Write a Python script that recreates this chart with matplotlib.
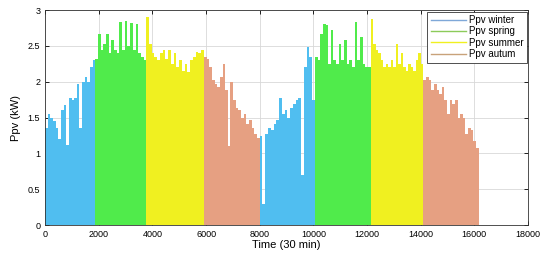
import numpy as np
import matplotlib.pyplot as plt
from matplotlib.lines import Line2D

plt.rcParams['font.family'] = ['Liberation Sans', 'DejaVu Sans']

# Peak PV power, roughly one value per 100 time steps (30 min each)
winter1 = [1.35, 1.55, 1.5, 1.45, 1.35, 1.2, 1.6, 1.68, 1.12, 1.78,
           1.74, 1.78, 1.97, 1.36, 2.0, 2.06, 2.0, 2.2, 2.3]
spring1 = [2.32, 2.67, 2.44, 2.53, 2.67, 2.4, 2.58, 2.44, 2.4, 2.84,
           2.45, 2.85, 2.5, 2.82, 2.45, 2.8, 2.4, 2.35, 2.3]
summer1 = [2.9, 2.53, 2.4, 2.35, 2.3, 2.4, 2.44, 2.32, 2.44, 2.25,
           2.4, 2.2, 2.3, 2.15, 2.25, 2.13, 2.3, 2.35, 2.42, 2.4, 2.44]
autumn1 = [2.35, 2.32, 2.2, 2.02, 1.97, 1.92, 2.06, 2.25, 1.88, 1.1,
           2.0, 1.74, 1.64, 1.6, 1.5, 1.55, 1.41, 1.46, 1.36, 1.27, 1.22]
winter2 = [1.25, 0.3, 1.27, 1.36, 1.32, 1.41, 1.46, 1.78, 1.55, 1.6,
           1.5, 1.64, 1.69, 1.74, 1.78, 0.7, 2.2, 2.48, 2.35, 1.74]
spring2 = [2.35, 2.3, 2.67, 2.81, 2.79, 2.25, 2.72, 2.3, 2.25, 2.53,
           2.3, 2.58, 2.25, 2.3, 2.2, 2.84, 2.3, 2.62, 2.25, 2.2, 2.2]
summer2 = [2.88, 2.53, 2.44, 2.4, 2.3, 2.2, 2.25, 2.2, 2.3, 2.2,
           2.53, 2.25, 2.4, 2.2, 2.15, 2.25, 2.2, 2.15, 2.3, 2.4, 2.25]
autumn2 = [2.02, 2.06, 2.02, 1.88, 1.97, 1.88, 1.83, 1.92, 1.74, 1.55,
           1.74, 1.69, 1.74, 1.5, 1.55, 1.5, 1.27, 1.36, 1.32, 1.18, 1.08]

# season boundaries in time steps
season_bounds = [0, 1870, 3770, 5920, 8000, 10060, 12130, 14100, 16160]
season_data = [winter1, spring1, summer1, autumn1, winter2, spring2, summer2, autumn2]
season_kind = ['winter', 'spring', 'summer', 'autumn',
               'winter', 'spring', 'summer', 'autumn']

bar_colors = {'winter': '#50BEF0', 'spring': '#50EB4B',
              'summer': '#F0F020', 'autumn': '#E6A082'}
legend_colors = {'winter': '#7FA8D8', 'spring': '#8CCB5A',
                 'summer': '#F0F020', 'autumn': '#C8A27A'}
legend_labels = ['Ppv winter', 'Ppv spring', 'Ppv summer', 'Ppv autum']

fig = plt.figure(figsize=(5.5, 2.59), dpi=100)
ax = fig.add_axes([0.082, 0.131, 0.878, 0.830])

for i, (vals, kind) in enumerate(zip(season_data, season_kind)):
    start, end = season_bounds[i], season_bounds[i + 1]
    w = (end - start) / len(vals)
    x = start + w * np.arange(len(vals))
    ax.bar(x, vals, width=w, align='edge', color=bar_colors[kind], linewidth=0)

ax.set_xlim(0, 18000)
ax.set_ylim(0, 3)
ax.set_xticks(np.arange(0, 18001, 2000))
ax.set_yticks(np.arange(0, 3.01, 0.5))
ax.set_yticklabels(['0', '0.5', '1', '1.5', '2', '2.5', '3'])
ax.tick_params(direction='in', labelsize=6.5, length=3, width=0.6, top=True, right=True)
ax.grid(True, color='#d8d8d8', linewidth=0.6)
ax.set_axisbelow(True)
for s in ax.spines.values():
    s.set_linewidth(0.6)
    s.set_color('#333333')

ax.set_xlabel('Time (30 min)', fontsize=8, labelpad=1)
ax.set_ylabel('Ppv (kW)', fontsize=8, labelpad=5)

handles = [Line2D([0], [0], color=legend_colors[k], lw=1)
           for k in ['winter', 'spring', 'summer', 'autumn']]
leg = ax.legend(handles, legend_labels, loc='upper right', fontsize=7,
                fancybox=False, framealpha=1, edgecolor='#333333',
                borderaxespad=0.15, handlelength=3.6, labelspacing=0.15,
                borderpad=0.35, handletextpad=0.3)
leg.get_frame().set_linewidth(0.6)

fig.savefig('out.png', dpi=100)
